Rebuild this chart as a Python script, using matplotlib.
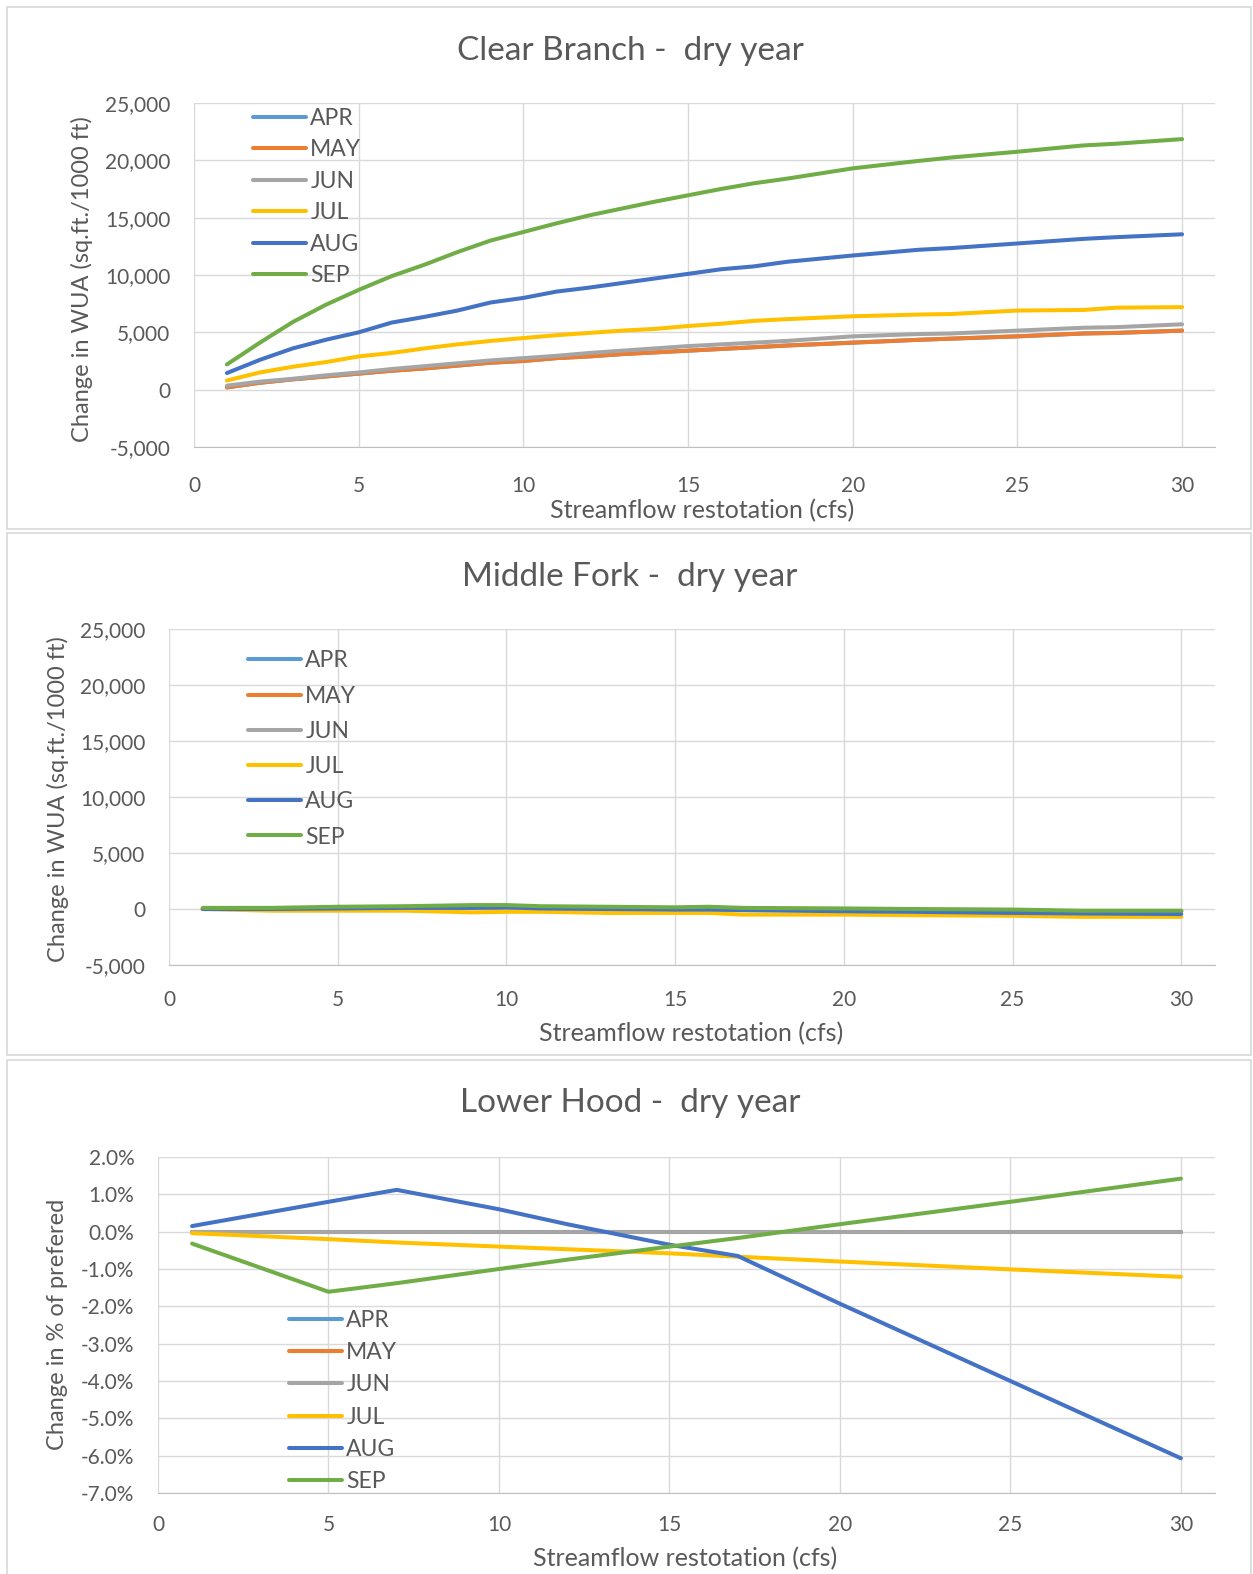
import matplotlib.pyplot as plt
from matplotlib.patches import Rectangle
from matplotlib.ticker import FuncFormatter, MultipleLocator

plt.rcParams['font.family'] = ['Lato', 'DejaVu Sans']

months = ['APR', 'MAY', 'JUN', 'JUL', 'AUG', 'SEP']
colors = ['#5B9BD5', '#ED7D31', '#A5A5A5', '#FFC000', '#4472C4', '#70AD47']

# Clear Branch - dry year
x_clear = [1, 2, 3, 4, 5, 6, 7, 8, 9, 10, 11, 12, 13, 14, 15, 16, 17, 18, 20, 22, 23, 25, 27, 28, 30]
clear_apr = [200, 600, 900, 1150, 1400, 1650, 1850, 2100, 2350, 2500, 2750, 2900, 3100, 3250, 3400,
             3550, 3700, 3850, 4100, 4350, 4450, 4650, 4900, 4950, 5150]
clear_may = [200, 600, 900, 1150, 1400, 1650, 1850, 2100, 2350, 2500, 2750, 2900, 3100, 3250, 3400,
             3550, 3700, 3850, 4100, 4350, 4450, 4650, 4900, 4950, 5150]
clear_jun = [350, 700, 950, 1250, 1500, 1800, 2050, 2300, 2550, 2750, 2950, 3200, 3400, 3600, 3800,
             3950, 4100, 4250, 4650, 4850, 4900, 5150, 5400, 5450, 5700]
clear_jul = [800, 1500, 2000, 2400, 2900, 3200, 3600, 3950, 4250, 4500, 4750, 4950, 5150, 5300, 5550,
             5750, 6000, 6150, 6400, 6550, 6600, 6900, 6950, 7150, 7200]
clear_aug = [1450, 2600, 3600, 4350, 5000, 5850, 6350, 6900, 7600, 8000, 8550, 8900, 9300, 9700, 10100,
             10500, 10750, 11150, 11700, 12200, 12350, 12750, 13150, 13300, 13550]
clear_sep = [2200, 4100, 5900, 7400, 8700, 9900, 10900, 12000, 13000, 13750, 14500, 15200, 15800, 16400, 16950,
             17500, 18000, 18400, 19300, 19950, 20250, 20750, 21300, 21450, 21850]

# Middle Fork - dry year
x_middle = [1, 3, 5, 7, 9, 10, 11, 13, 15, 16, 17, 20, 22, 25, 27, 30]
middle_apr = [0, 0, 50, 50, 100, 100, 50, 0, 0, 0, -50, -100, -100, -150, -200, -200]
middle_may = [0, 0, 50, 50, 100, 100, 50, 0, 0, 0, -50, -100, -100, -150, -200, -200]
middle_jun = [0, 0, 50, 50, 100, 100, 50, 0, 0, 0, -50, -100, -100, -150, -200, -200]
middle_jul = [0, -150, -150, -150, -300, -250, -250, -350, -350, -350, -500, -500, -550, -600, -700, -700]
middle_aug = [0, 0, 50, 100, 100, 150, 50, 0, -50, -50, -100, -200, -250, -350, -400, -450]
middle_sep = [100, 100, 200, 250, 350, 350, 250, 200, 150, 200, 100, 50, 0, -50, -150, -150]

# Lower Hood - dry year (percent)
x_lower = [1, 5, 7, 10, 12, 15, 17, 20, 25, 30]
lower_apr = [0, 0, 0, 0, 0, 0, 0, 0, 0, 0]
lower_may = [0, 0, 0, 0, 0, 0, 0, 0, 0, 0]
lower_jun = [0, 0, 0, 0, 0, 0, 0, 0, 0, 0]
lower_jul = [-0.04, -0.2, -0.29, -0.4, -0.47, -0.58, -0.67, -0.8, -1.01, -1.21]
lower_aug = [0.15, 0.8, 1.12, 0.6, 0.2, -0.35, -0.65, -1.93, -4.0, -6.07]
lower_sep = [-0.32, -1.61, -1.38, -1.0, -0.75, -0.4, -0.17, 0.2, 0.8, 1.42]

W, H = 1253, 1574
fig = plt.figure(figsize=(W / 100, H / 100), dpi=100)
txt = '#595959'


def fx(px):
    return px / W


def fy(py):
    return 1 - py / H


panels = [
    dict(title='Clear Branch -  dry year', x=x_clear,
         ys=[clear_apr, clear_may, clear_jun, clear_jul, clear_aug, clear_sep],
         box=(7, 7, 1251, 529), ax=(194, 103, 1215, 447), ylim=(-5000, 25000), ystep=5000,
         title_xy=(630, 51), xl_xy=(702, 511), yl_xy=(82, 279),
         ylabel='Change in WUA (sq.ft./1000 ft)', leg=(253, 197), lspace=0.46, xpad=21, pct=False),
    dict(title='Middle Fork -  dry year', x=x_middle,
         ys=[middle_apr, middle_may, middle_jun, middle_jul, middle_aug, middle_sep],
         box=(7, 533, 1251, 1055), ax=(169, 629, 1215, 965), ylim=(-5000, 25000), ystep=5000,
         title_xy=(630, 577), xl_xy=(691, 1034), yl_xy=(58, 799),
         ylabel='Change in WUA (sq.ft./1000 ft)', leg=(248, 749), lspace=0.62, xpad=18, pct=False),
    dict(title='Lower Hood -  dry year', x=x_lower,
         ys=[lower_apr, lower_may, lower_jun, lower_jul, lower_aug, lower_sep],
         box=(7, 1060, 1251, 1580), ax=(158, 1157, 1215, 1493), ylim=(-7, 2), ystep=1,
         title_xy=(630, 1103), xl_xy=(685, 1559), yl_xy=(58, 1324),
         ylabel='Change in % of prefered', leg=(289, 1401), lspace=0.49, xpad=16, pct=True),
]

for p in panels:
    bx0, by0, bx1, by1 = p['box']
    fig.patches.append(Rectangle((fx(bx0), fy(by1)), fx(bx1 - bx0), (by1 - by0) / H,
                                 transform=fig.transFigure, fill=False,
                                 edgecolor='#d9d9d9', linewidth=1.2))
    l, t, r, b = p['ax']
    ax = fig.add_axes([fx(l), fy(b), fx(r - l), (b - t) / H])
    for name, col, y in zip(months, colors, p['ys']):
        ax.plot(p['x'], y, color=col, lw=2.9, label=name, solid_capstyle='round')
    ax.set_xlim(0, 31)
    ax.set_ylim(*p['ylim'])
    ax.set_xticks(range(0, 31, 5))
    ax.yaxis.set_major_locator(MultipleLocator(p['ystep']))
    if p['pct']:
        ax.yaxis.set_major_formatter(FuncFormatter(lambda v, pos: f'{v:.1f}%'))
    else:
        ax.yaxis.set_major_formatter(FuncFormatter(lambda v, pos: f'{v:,.0f}'))
    ax.grid(True, color='#d9d9d9', lw=1)
    ax.set_axisbelow(True)
    for s in ['top', 'right', 'left']:
        ax.spines[s].set_visible(False)
    ax.spines['bottom'].set_color('#bfbfbf')
    ax.tick_params(length=0, labelsize=15, labelcolor=txt)
    ax.tick_params(axis='x', pad=p['xpad'])
    ax.tick_params(axis='y', pad=17)
    fig.text(fx(p['title_xy'][0]), fy(p['title_xy'][1]), p['title'], fontsize=24,
             color=txt, ha='center', va='center')
    fig.text(fx(p['xl_xy'][0]), fy(p['xl_xy'][1]), 'Streamflow restotation (cfs)', fontsize=18,
             color=txt, ha='center', va='center')
    fig.text(fx(p['yl_xy'][0]), fy(p['yl_xy'][1]), p['ylabel'], fontsize=17,
             color=txt, ha='center', va='center', rotation=90)
    ax.legend(loc='center left', bbox_to_anchor=(fx(p['leg'][0]), fy(p['leg'][1])),
              bbox_transform=fig.transFigure, frameon=False, fontsize=16.5,
              handlelength=2.3, handletextpad=0.2, labelspacing=p['lspace'],
              borderpad=0, borderaxespad=0, labelcolor=txt)

fig.savefig('out.png', dpi=100)
